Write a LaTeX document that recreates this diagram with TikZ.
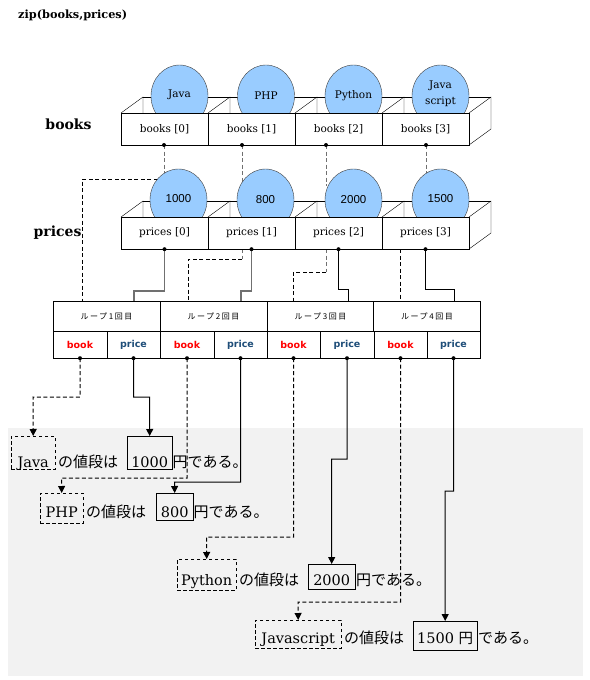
\documentclass[tikz,border=0pt]{standalone}
\usepackage{fontspec}
\newfontfamily\jp{Noto Sans CJK JP}
\newfontfamily\jpsp{Noto Sans CJK JP}[LetterSpace=20]
\newfontfamily\arialf{Liberation Sans}
\newfontfamily\verd{DejaVu Sans}
\newfontfamily\dser{DejaVu Serif}
\usetikzlibrary{shapes.geometric,arrows.meta}
\definecolor{bgray}{HTML}{F2F2F2}
\definecolor{ballblue}{HTML}{99CCFF}
\definecolor{priceblue}{HTML}{1F4E79}
\definecolor{bookred}{HTML}{FF0000}
\definecolor{lgray}{HTML}{707070}
\pgfdeclarelayer{bglayer}
\pgfdeclarelayer{connlayer}
\pgfsetlayers{bglayer,connlayer,main}
\tikzset{
  cell/.style={draw, fill=white, minimum width=87pt, minimum height=32pt, inner sep=0pt, font=\dser\fontsize{10.5}{13}\selectfont},
  ball/.style={ellipse, draw=black!75, fill=ballblue, minimum width=57pt, minimum height=62pt, inner sep=0pt, font=\dser\fontsize{10.5}{14}\selectfont, align=center},
  numball/.style={ball, font=\arialf\fontsize{11.5}{14}\selectfont},
  loophead/.style={draw, fill=white, minimum width=107pt, minimum height=30pt, inner sep=0pt, font=\jpsp\fontsize{8}{9}\selectfont},
  loopcell/.style={draw, fill=white, minimum width=53.5pt, minimum height=27pt, inner sep=0pt, font=\verd\bfseries\fontsize{9.5}{11}\selectfont},
  bookc/.style={loopcell, text=bookred},
  pricec/.style={loopcell, text=priceblue},
  gdash/.style={draw=lgray, line width=1pt, dash pattern=on 4pt off 2.5pt},
  bdash/.style={draw=black, line width=1pt, dash pattern=on 4pt off 2.5pt},
  gsol/.style={draw=lgray, line width=1.1pt},
  bsol/.style={draw=black, line width=1pt},
  arr/.style={-{Triangle[width=7pt,length=7pt]}},
  resbox/.style={draw, inner sep=0pt, anchor=north west, font=\dser\fontsize{14.5}{18}\selectfont},
  jbox/.style={resbox, dash pattern=on 3.5pt off 2.5pt},
  jtext/.style={anchor=base west, inner sep=0pt, font=\jp\fontsize{15}{18}\selectfont},
  rowlabel/.style={font=\dser\bfseries\fontsize{14}{17}\selectfont, inner sep=0pt},
}
\begin{document}
\begin{tikzpicture}[x=1pt,y=-1pt,line width=0.8pt]
\useasboundingbox (0,0) rectangle (589,680);
\begin{pgfonlayer}{bglayer}
\fill[bgray] (8,428) rectangle (583,676);
\end{pgfonlayer}

% title and row labels
\node[font=\dser\bfseries\fontsize{11.3}{14}\selectfont, anchor=west, inner sep=0pt] (title) at (18,15) {zip(books,prices)};
\node[rowlabel] (lbooks) at (68.5,124) {books};
\node[rowlabel] (lprices) at (57.5,233) {prices};

% back edges of the books row
\foreach \xa/\xb in {121/208,208/295,295/382,382/469}{
  \draw (\xa,113) -- (\xa+22,97) -- (\xa+22,113);
  \draw (\xa+22,97) -- (\xb+22,97);
}
\draw (469,113) -- (491,97) -- (491,129) -- (469,145);
% back edges of the prices row
\foreach \xa/\xb in {121/208,208/295,295/382,382/469}{
  \draw (\xa,217) -- (\xa+22,201) -- (\xa+22,217);
  \draw (\xa+22,201) -- (\xb+22,201);
}
\draw (469,217) -- (491,201) -- (491,233) -- (469,249);

% circles
\node[ball] (bc0) at (179.5,96) {\raisebox{4pt}{Java}};
\node[ball] (bc1) at (266,96) {\raisebox{-2pt}{PHP}};
\node[ball] (bc2) at (353.5,96) {\raisebox{3pt}{Python}};
\node[ball] (bc3) at (440.5,96) {\raisebox{6pt}{\shortstack{Java\\[3pt]script}}};
\node[numball] (pc0) at (178.5,200) {\raisebox{3pt}{1000}};
\node[numball] (pc1) at (265.5,200) {\raisebox{-2pt}{800}};
\node[numball] (pc2) at (353.5,200) {\raisebox{1pt}{2000}};
\node[numball] (pc3) at (440.5,200) {\raisebox{3pt}{1500}};

% front cells
\node[cell] (b0) at (164.5,129) {books [0]};
\node[cell] (b1) at (251.5,129) {books [1]};
\node[cell] (b2) at (338.5,129) {books [2]};
\node[cell] (b3) at (425.5,129) {books [3]};
\node[cell] (p0) at (164.5,233) {prices [0]};
\node[cell] (p1) at (251.5,233) {prices [1]};
\node[cell] (p2) at (338.5,233) {prices [2]};
\node[cell] (p3) at (425.5,233) {prices [3]};

% loop boxes
\node[loophead] (lh1) at (106.5,316) {ループ1回目};
\node[loophead] (lh2) at (213.5,316) {ループ2回目};
\node[loophead] (lh3) at (320.5,316) {ループ3回目};
\node[loophead] (lh4) at (427,316) {ループ4回目};
\node[bookc] (lb1) at (80,344.5) {book};
\node[pricec] (lp1) at (133.5,344.5) {price};
\node[bookc] (lb2) at (187,344.5) {book};
\node[pricec] (lp2) at (240.5,344.5) {price};
\node[bookc] (lb3) at (293.5,344.5) {book};
\node[pricec] (lp3) at (347,344.5) {price};
\node[bookc] (lb4) at (400.5,344.5) {book};
\node[pricec] (lp4) at (453.5,344.5) {price};

% result lines
\node[jbox, minimum width=44pt, text height=31pt, text depth=2pt] (r1j) at (11,436) {Java};
\node[jtext] (t1a) at (58,467) {の値段は};
\node[resbox, minimum width=45pt, text height=31pt, text depth=2pt] (r1p) at (127,436) {1000};
\node[jtext] (t1b) at (172.5,467) {円である。};

\node[jbox, minimum width=43pt, text height=24pt, text depth=6pt] (r2j) at (40,493) {PHP};
\node[jtext] (t2a) at (86,517) {の値段は};
\node[resbox, minimum width=37pt, text height=24pt, text depth=3pt] (r2p) at (156,493) {800};
\node[jtext] (t2b) at (193.5,517) {円である。};

\node[jbox, minimum width=59pt, text height=26pt, text depth=5pt] (r3j) at (177,559) {Python};
\node[jtext] (t3a) at (239,585) {の値段は};
\node[resbox, minimum width=47pt, text height=21pt, text depth=4pt] (r3p) at (308,564) {2000};
\node[jtext] (t3b) at (356,585) {円である。};

\node[jbox, minimum width=86pt, text height=23pt, text depth=5pt] (r4j) at (255,620) {Javascript};
\node[jtext] (t4a) at (344,643) {の値段は};
\node[resbox, minimum width=64pt, text height=22pt, text depth=7pt] (r4p) at (413,621) {1500 {\jp 円}};
\node[jtext] (t4b) at (478,643) {である。};

% connectors (drawn below shapes)
\coordinate (bd0) at (164,145);
\coordinate (bd1) at (242,145);
\coordinate (bd2) at (326,145);
\coordinate (bd3) at (426,145);
\begin{pgfonlayer}{connlayer}
  % books -> prices circles
  \draw[gdash] (bd0) -- (bd0 |- pc0.center);
  \draw[gdash] (bd1) -- (bd1 |- pc1.center);
  \draw[gdash] (bd2) -- (326,186);
  \draw[gdash] (bd3) -- (bd3 |- pc3.center);
  % book inputs of the loops
  \draw[bdash] (bd0 |- 0,179) -- (82,179) -- (82,0 |- lh1.north);
  \draw[gdash] (bd1 |- p1.south) -- (242,259);
  \draw[bdash] (242,259) -- (188,259) -- (188,0 |- lh2.north);
  \draw[gdash] (bd2 |- p2.south) -- (326,272);
  \draw[bdash] (326,272) -- (293,272) -- (293,0 |- lh3.north);
  \draw[bdash] (400,0 |- p3.south) -- (400,0 |- lh4.north);
  % price inputs of the loops
  \draw[gsol] (p0.south) -- (164.5,291) -- (134,291) -- (134,0 |- lh1.north);
  \draw[gsol] (p1.south) -- (251.5,291) -- (241,291) -- (241,0 |- lh2.north);
  \draw[bsol] (p2.south) -- (338.5,289) -- (348,289) -- (348,0 |- lh3.north);
  \draw[bsol] (p3.south) -- (425.5,289) -- (454,289) -- (454,0 |- lh4.north);
  % loop outputs to results
  \draw[bdash, arr] (lb1.south) -- (80,397) -- (33,397) -- (r1j.north);
  \draw[bsol, arr] (lp1.south) -- (133.5,397) -- (149.5,397) -- (r1p.north);
  \draw[bdash, arr] (lb2.south) -- (187,478) -- (61.5,478) -- (r2j.north);
  \draw[bsol, arr] (lp2.south) -- (240.5,482) -- (174.5,482) -- (r2p.north);
  \draw[bdash, arr] (lb3.south) -- (293.5,537) -- (206.5,537) -- (r3j.north);
  \draw[bsol, arr] (lp3.south) -- (347,459) -- (331.5,459) -- (r3p.north);
  \draw[bdash, arr] (lb4.south) -- (400.5,602) -- (298,602) -- (r4j.north);
  \draw[bsol, arr] (lp4.south) -- (453.5,491) -- (445,491) -- (r4p.north);
\end{pgfonlayer}

% start dots
\foreach \c in {bd0,bd1,bd2,bd3,p0.south,p1.south,p2.south,p3.south,lb1.south,lp1.south,lb2.south,lp2.south,lb3.south,lp3.south,lb4.south,lp4.south}{
  \fill (\c) circle (2pt);
}
\end{tikzpicture}
\end{document}
